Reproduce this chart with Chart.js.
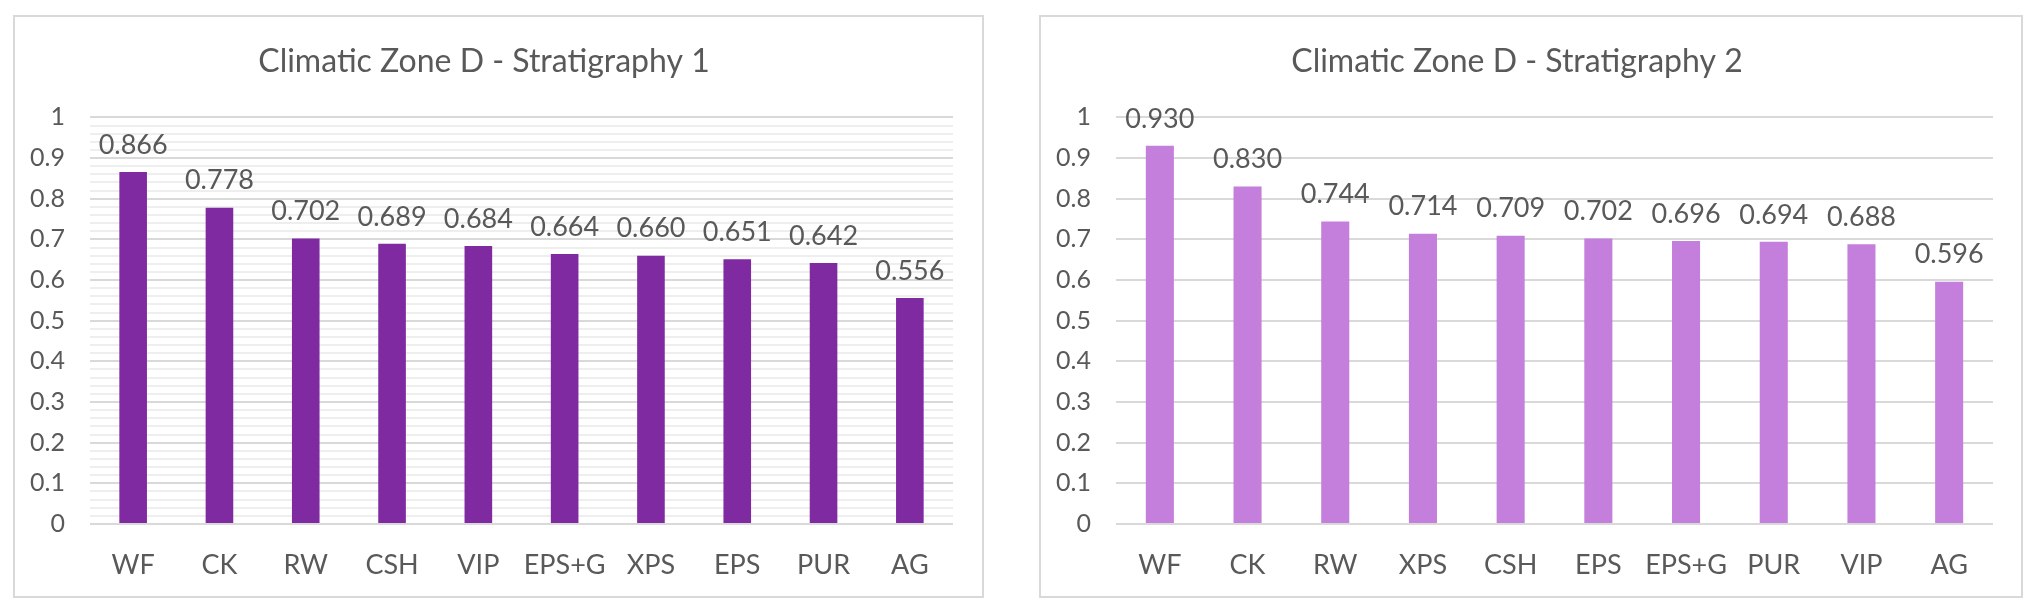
<!DOCTYPE html>
<html>
<head>
<meta charset="utf-8">
<script src="https://cdn.jsdelivr.net/npm/chart.js@4"></script>
<style>
  body { margin: 0; background: #fff; width: 2039px; height: 611px; position: relative; overflow: hidden; }
  .panel { position: absolute; top: 15px; height: 579px; border: 2px solid #d9d9d9; background: #fff; }
  #p1 { left: 13px; width: 967px; }
  #p2 { left: 1039px; width: 980px; }
  canvas { display: block; }
</style>
</head>
<body>
<div class="panel" id="p1"><canvas id="chart1" width="967" height="579"></canvas></div>
<div class="panel" id="p2"><canvas id="chart2" width="980" height="579"></canvas></div>
<script>
const labels1 = ['WF', 'CK', 'RW', 'CSH', 'VIP', 'EPS+G', 'XPS', 'EPS', 'PUR', 'AG'];
const values1 = [0.866, 0.778, 0.702, 0.689, 0.684, 0.664, 0.660, 0.651, 0.642, 0.556];
const labels2 = ['WF', 'CK', 'RW', 'XPS', 'CSH', 'EPS', 'EPS+G', 'PUR', 'VIP', 'AG'];
const values2 = [0.930, 0.830, 0.744, 0.714, 0.709, 0.702, 0.696, 0.694, 0.688, 0.596];

const textColor = '#595959';
const fontFamily = 'Lato, "Open Sans", sans-serif';

// draws the value above each bar, 3 decimals like the excel labels
const valueLabels = {
    id: 'valueLabels',
    afterDatasetsDraw(chart) {
        const ctx = chart.ctx;
        const meta = chart.getDatasetMeta(0);
        const data = chart.data.datasets[0].data;
        ctx.save();
        ctx.font = '27px ' + fontFamily;
        ctx.fillStyle = textColor;
        ctx.textAlign = 'center';
        ctx.textBaseline = 'middle';
        meta.data.forEach(function (bar, i) {
            ctx.fillText(data[i].toFixed(3), bar.x, bar.y - 27);
        });
        ctx.restore();
    }
};

function isMajor(v) {
    return Math.abs(v * 10 - Math.round(v * 10)) < 1e-6;
}

function makeChart(canvas, title, labels, values, color, minorGrid, rightPad) {
    return new Chart(canvas, {
        type: 'bar',
        data: {
            labels: labels,
            datasets: [{
                data: values,
                backgroundColor: color,
                borderWidth: 0,
                barPercentage: 0.32,
                categoryPercentage: 1
            }]
        },
        options: {
            responsive: false,
            animation: false,
            layout: { padding: { left: 0, right: rightPad, top: 0, bottom: 0 } },
            plugins: {
                legend: { display: false },
                tooltip: { enabled: false },
                title: {
                    display: true,
                    text: title,
                    color: textColor,
                    font: { family: fontFamily, size: 32, weight: 'normal' },
                    padding: { top: 25, bottom: 37 }
                }
            },
            scales: {
                x: {
                    afterFit: function (scale) { scale.height = 72; },
                    grid: { display: false },
                    border: { display: false },
                    ticks: {
                        color: textColor,
                        font: { family: fontFamily, size: 27 },
                        padding: 17,
                        maxRotation: 0,
                        autoSkip: false
                    }
                },
                y: {
                    min: 0,
                    max: 1,
                    afterFit: function (scale) { scale.width = 75; },
                    border: { display: false },
                    grid: {
                        drawTicks: false,
                        lineWidth: 2,
                        color: function (c) {
                            return isMajor(c.tick.value) ? '#d9d9d9' : '#eeeeee';
                        }
                    },
                    ticks: {
                        stepSize: minorGrid ? 0.02 : 0.1,
                        autoSkip: false,
                        padding: 25,
                        color: textColor,
                        font: { family: fontFamily, size: 25 },
                        callback: function (v) {
                            if (!isMajor(v)) return '';
                            return String(Math.round(v * 10) / 10);
                        }
                    }
                }
            }
        },
        plugins: [valueLabels]
    });
}

makeChart(document.getElementById('chart1'), 'Climatic Zone D - Stratigraphy 1', labels1, values1, '#7f2aa1', true, 29);
makeChart(document.getElementById('chart2'), 'Climatic Zone D - Stratigraphy 2', labels2, values2, '#c47fdc', false, 28);
</script>
</body>
</html>
